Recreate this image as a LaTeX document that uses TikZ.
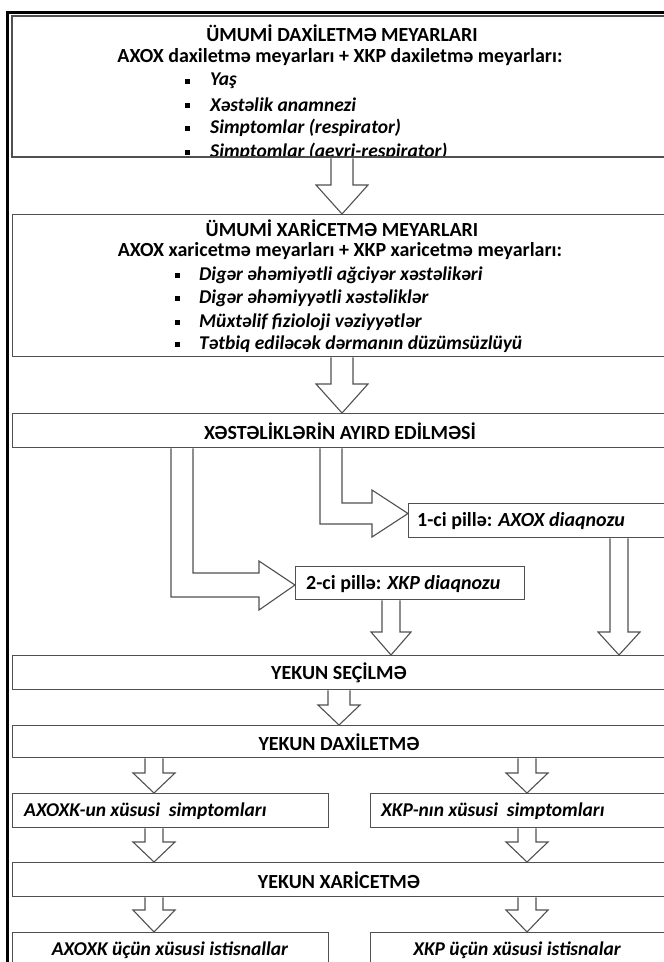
\documentclass[tikz,border=0pt]{standalone}
\usepackage{fontspec}
\setmainfont{Carlito}
\usetikzlibrary{calc}
\definecolor{bd}{RGB}{80,80,80}
\tikzset{
  boxline/.style={draw=bd, line width=1.3pt},
  barrow/.style={draw=bd, line width=1.1pt, fill=white, line join=miter},
  ttl/.style={font=\bfseries\fontsize{20}{22}\selectfont, inner sep=0pt},
  itm/.style={font=\bfseries\itshape\fontsize{19.5}{22}\selectfont, anchor=west, inner sep=0pt},
  itc/.style={font=\bfseries\itshape\fontsize{19.5}{22}\selectfont, inner sep=0pt},
  bul/.style={fill=black, minimum size=5pt, inner sep=0pt, draw=none},
  emptybox/.style={boxline, anchor=north west, inner sep=0pt},
}
% block arrow down from node #1 (south) to node #2 (north) at x=#3; shaft #4, head #5, head length #6
\newcommand\blockdown[6]{%
  \draw[barrow] let \p1=(#1.south), \p2=(#2.north) in
    ({#3pt-0.5*#4pt},\y1) -- ({#3pt-0.5*#4pt},{\y2+#6pt}) -- ({#3pt-0.5*#5pt},{\y2+#6pt})
    -- (#3pt,\y2) -- ({#3pt+0.5*#5pt},{\y2+#6pt}) -- ({#3pt+0.5*#4pt},{\y2+#6pt})
    -- ({#3pt+0.5*#4pt},\y1);}
\begin{document}
\begin{tikzpicture}[x=1pt,y=-1pt]
\useasboundingbox (0,0) rectangle (664,962);
\fill[white] (0,0) rectangle (664,962);

% outer frame
\draw[black, line width=2.4pt] (7.5,975) -- (7.5,12.5) -- (675,12.5);

% ---------- box 1 ----------
\node[emptybox, minimum width=660pt, minimum height=141pt] (b1) at (12,16) {};
\begin{scope}
  \clip (12,16) rectangle (672,157);
  \node[ttl] (t1) at (342,33) {ÜMUMİ DAXİLETMƏ MEYARLARI};
  \node[ttl] (t1s) at (340,57) {AXOX daxiletmə meyarları + XKP daxiletmə meyarları:};
  \node[bul] (p1a) at (187,81) {};
  \node[itm] (i1a) at (210,81) {Yaş};
  \node[bul] (p1b) at (187,105) {};
  \node[itm] (i1b) at (210,105) {Xəstəlik anamnezi};
  \node[bul] (p1c) at (187,128) {};
  \node[itm] (i1c) at (210,128) {Simptomlar (respirator)};
  \node[bul] (p1d) at (187,152) {};
  \node[itm] (i1d) at (210,152) {Simptomlar (qeyri-respirator)};
\end{scope}
\draw[boxline] (12,157) rectangle (672,16);

% ---------- box 2 ----------
\node[emptybox, minimum width=660pt, minimum height=142pt] (b2) at (12,214) {};
\node[ttl] (t2) at (342,228) {ÜMUMİ XARİCETMƏ MEYARLARI};
\node[ttl] (t2s) at (340,251) {AXOX xaricetmə meyarları + XKP xaricetmə meyarları:};
\node[bul] (p2a) at (177,275) {};
\node[itm] (i2a) at (199,275) {Digər əhəmiyətli ağciyər xəstəlikəri};
\node[bul] (p2b) at (177,298) {};
\node[itm] (i2b) at (199,298) {Digər əhəmiyyətli xəstəliklər};
\node[bul] (p2c) at (177,322) {};
\node[itm] (i2c) at (199,322) {Müxtəlif fizioloji vəziyyətlər};
\node[bul] (p2d) at (177,344) {};
\node[itm] (i2d) at (199,344) {Tətbiq ediləcək dərmanın düzümsüzlüyü};

% ---------- box 3 ----------
\node[emptybox, minimum width=660pt, minimum height=34pt] (b3) at (12,413) {};
\node[ttl] (t3) at (340,431) {XƏSTƏLİKLƏRİN AYIRD EDİLMƏSİ};

% step boxes
\node[emptybox, minimum width=264pt, minimum height=34pt] (s1) at (408,503) {};
\node[ttl, anchor=west] (ts1) at (417,521) {1-ci pillə: \textit{AXOX diaqnozu}};
\node[emptybox, minimum width=229pt, minimum height=33pt] (s2) at (295,566) {};
\node[ttl, anchor=west] (ts2) at (306,584) {2-ci pillə: \textit{XKP diaqnozu}};

% ---------- final boxes ----------
\node[emptybox, minimum width=660pt, minimum height=34pt] (b4) at (12,655) {};
\node[ttl] (t4) at (339,673) {YEKUN SEÇİLMƏ};
\node[emptybox, minimum width=660pt, minimum height=32pt] (b5) at (12,725) {};
\node[ttl] (t5) at (339,742) {YEKUN DAXİLETMƏ};
\node[emptybox, minimum width=316pt, minimum height=34pt] (b6l) at (12,793) {};
\node[itm] (t6l) at (24,811) {AXOXK-un xüsusi \ simptomları};
\node[emptybox, minimum width=302pt, minimum height=34pt] (b6r) at (370,793) {};
\node[itm] (t6r) at (381,811) {XKP-nın xüsusi \ simptomları};
\node[emptybox, minimum width=660pt, minimum height=34pt] (b7) at (12,862) {};
\node[ttl] (t7) at (339,880) {YEKUN XARİCETMƏ};
\node[emptybox, minimum width=316pt, minimum height=45pt] (b8l) at (12,932) {};
\node[itc] (t8l) at (170,950) {AXOXK üçün xüsusi istisnallar};
\node[emptybox, minimum width=302pt, minimum height=45pt] (b8r) at (370,932) {};
\node[itc] (t8r) at (517,950) {XKP üçün xüsusi istisnalar};

% ---------- block arrows ----------
\blockdown{b1}{b2}{342}{22}{52}{29}
\blockdown{b2}{b3}{342}{22}{52}{29}

% bent arrows from b3
\draw[barrow] let \p1=(b3.south), \p2=(s1.west) in
  (320,\y1) -- (320,524) -- (372,524) -- (372,537) -- (\x2,513.5) -- (372,490) -- (372,503) -- (342,503) -- (342,\y1);
\draw[barrow] let \p1=(b3.south), \p2=(s2.west) in
  (171,\y1) -- (171,597) -- (259,597) -- (259,610) -- (\x2,585) -- (259,561) -- (259,573) -- (193,573) -- (193,\y1);

\blockdown{s2}{b4}{391}{18}{40}{23}
\blockdown{s1}{b4}{619}{18}{42}{23}
\blockdown{b4}{b5}{339}{22}{42}{20}
\blockdown{b5}{b6l}{154}{18}{42}{20}
\blockdown{b5}{b6r}{527}{18}{42}{20}
\blockdown{b6l}{b7}{154}{18}{42}{20}
\blockdown{b6r}{b7}{527}{18}{42}{20}
\blockdown{b7}{b8l}{154}{18}{42}{22}
\blockdown{b7}{b8r}{527}{18}{42}{22}
\end{tikzpicture}
\end{document}
